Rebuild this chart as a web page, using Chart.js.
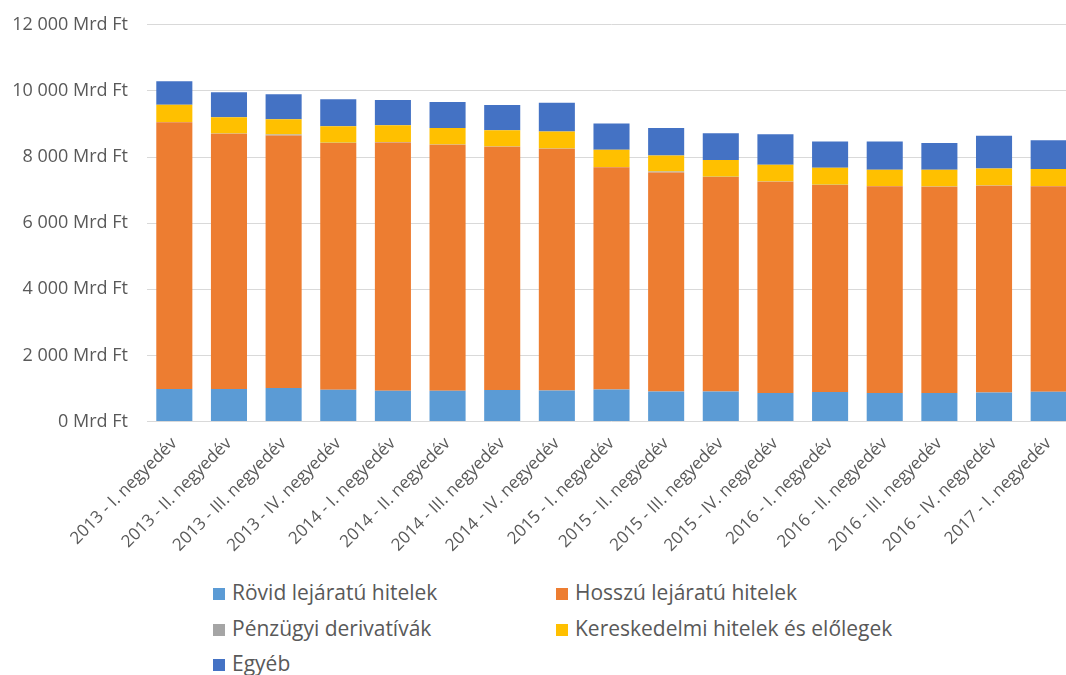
<!DOCTYPE html>
<html>
<head>
<meta charset="utf-8">
<script src="https://cdn.jsdelivr.net/npm/chart.js@4"></script>
<style>
  html, body { margin: 0; padding: 0; background: #fff; overflow: hidden; }
  body { width: 1066px; height: 675px; position: relative; font-family: "Open Sans", "Noto Sans", sans-serif; }
  #wrap { position: absolute; left: 0; top: -5px; width: 1076px; height: 577px; }
  #legend { position: absolute; left: 0; top: 579px; width: 1066px; color: #595959; font-size: 21px; }
  .item { position: absolute; white-space: nowrap; line-height: 26px; }
  .box { display: inline-block; width: 12px; height: 12px; margin-right: 7px; vertical-align: 0px; }
</style>
</head>
<body>
<div id="wrap"><canvas id="chart"></canvas></div>
<div id="legend"></div>
<script>
const quarters = [
  "2013 - I. negyedév", "2013 - II. negyedév", "2013 - III. negyedév", "2013 - IV. negyedév",
  "2014 - I. negyedév", "2014 - II. negyedév", "2014 - III. negyedév", "2014 - IV. negyedév",
  "2015 - I. negyedév", "2015 - II. negyedév", "2015 - III. negyedév", "2015 - IV. negyedév",
  "2016 - I. negyedév", "2016 - II. negyedév", "2016 - III. negyedév", "2016 - IV. negyedév",
  "2017 - I. negyedév"
];

const rovid = [980, 980, 1010, 959, 930, 930, 950, 940, 970, 910, 910, 860, 890, 860, 860, 880, 900];
const hosszu = [8075, 7722, 7640, 7463, 7513, 7440, 7360, 7310, 6719, 6624, 6486, 6395, 6265, 6256, 6244, 6254, 6216];
const derivativak = [8, 8, 30, 8, 8, 8, 8, 8, 8, 30, 8, 8, 8, 8, 8, 8, 8];
const kereskedelmi = [522, 495, 465, 503, 513, 504, 495, 512, 522, 483, 504, 503, 513, 491, 503, 513, 513];
const egyeb = [706, 754, 754, 815, 763, 784, 763, 875, 793, 835, 814, 926, 793, 854, 806, 986, 874];

const yTicks = [0, 2000, 4000, 6000, 8000, 10000, 12000];

const seriesNames = [
  "Rövid lejáratú hitelek", "Hosszú lejáratú hitelek", "Pénzügyi derivatívák",
  "Kereskedelmi hitelek és előlegek", "Egyéb"
];
const seriesColors = ["#5b9bd5", "#ed7d31", "#a5a5a5", "#ffc000", "#4472c4"];
const seriesData = [rovid, hosszu, derivativak, kereskedelmi, egyeb];

function formatMrd(v) {
  return String(v).replace(/\B(?=(\d{3})+(?!\d))/g, " ") + " Mrd Ft";
}

const datasets = seriesNames.map((name, i) => ({
  label: name,
  data: seriesData[i],
  backgroundColor: seriesColors[i],
  borderWidth: 0,
  barPercentage: 0.66,
  categoryPercentage: 1,
}));

const fontFamily = '"Open Sans", "Noto Sans", sans-serif';

new Chart(document.getElementById("chart"), {
  type: "bar",
  data: { labels: quarters, datasets },
  options: {
    responsive: true,
    maintainAspectRatio: false,
    animation: false,
    layout: { padding: { top: 8, left: 0, right: 0, bottom: 0 } },
    plugins: { legend: { display: false }, tooltip: { enabled: false } },
    scales: {
      x: {
        stacked: true,
        grid: { display: false },
        border: { display: false },
        ticks: {
          color: "#595959",
          font: { family: fontFamily, size: 17 },
          minRotation: 45,
          maxRotation: 45,
          autoSkip: false,
          padding: 4,
        },
        afterFit: (scale) => { scale.height = 150.5; },
      },
      y: {
        stacked: true,
        min: 0,
        max: 12000,
        afterBuildTicks: (scale) => { scale.ticks = yTicks.map((v) => ({ value: v })); },
        grid: { color: "#d9d9d9", drawTicks: false },
        border: { display: false },
        ticks: {
          color: "#595959",
          font: { family: fontFamily, size: 18 },
          padding: 19,
          callback: (v) => formatMrd(v),
        },
        afterFit: (scale) => { scale.width = 147; },
      },
    },
  },
});

// two-column legend like the original
const legend = document.getElementById("legend");
const colX = [213, 556];
seriesNames.forEach((name, i) => {
  const el = document.createElement("div");
  el.className = "item";
  el.style.left = colX[i % 2] + "px";
  el.style.top = Math.floor(i / 2) * 35.5 + "px";
  el.innerHTML = '<span class="box" style="background:' + seriesColors[i] + '"></span>' + name;
  legend.appendChild(el);
});
</script>
</body>
</html>
